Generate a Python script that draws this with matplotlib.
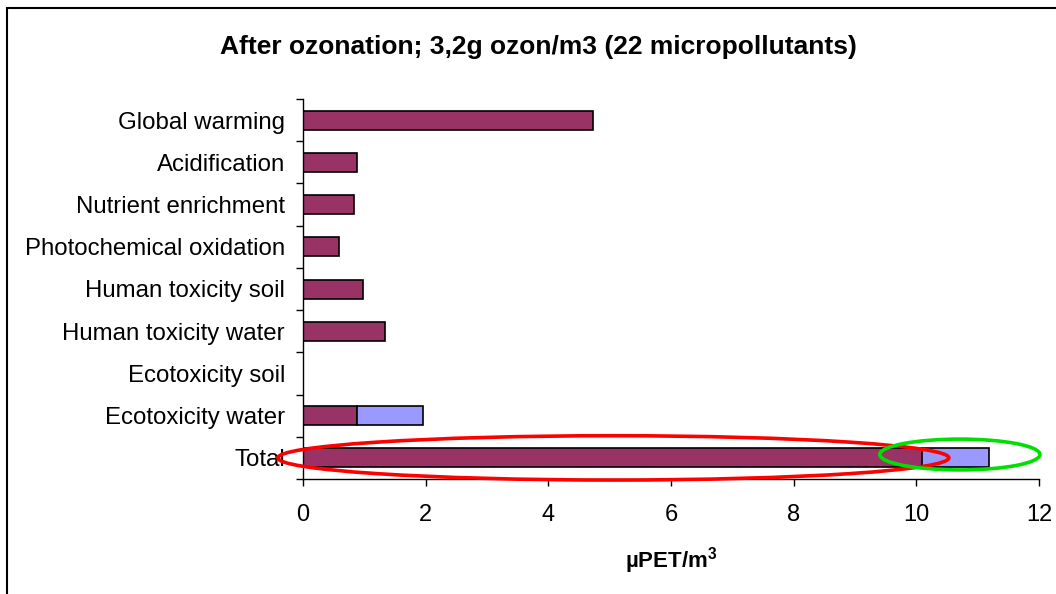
import matplotlib
matplotlib.use("Agg")
import matplotlib.pyplot as plt
from matplotlib.patches import Ellipse, Rectangle
import numpy as np

plt.rcParams['font.family'] = ['Liberation Sans', 'DejaVu Sans']

categories = ["Total", "Ecotoxicity water", "Ecotoxicity soil", "Human toxicity water",
              "Human toxicity soil", "Photochemical oxidation", "Nutrient enrichment",
              "Acidification", "Global warming"]
series_a = [10.10, 0.88, 0.0, 1.34, 0.98, 0.58, 0.83, 0.88, 4.73]
series_b = [1.09, 1.08, 0.0, 0.0, 0.0, 0.0, 0.0, 0.0, 0.0]
xticks = [0, 2, 4, 6, 8, 10, 12]
title = "After ozonation; 3,2g ozon/m3 (22 micropollutants)"
xlabel = "µPET/m$^\\mathregular{3}$"

W, H = 1056, 594
fig = plt.figure(figsize=(W / 100, H / 100), dpi=100)
ax = fig.add_axes([303 / W, 1 - 479 / H, (1039 - 303) / W, (479 - 99) / H])

y = np.arange(len(categories))
ea = ['black' if v > 0 else 'none' for v in series_a]
eb = ['black' if v > 0 else 'none' for v in series_b]
ax.barh(y, series_a, height=0.45, color='#993366', edgecolor=ea, linewidth=1.2, zorder=2)
ax.barh(y, series_b, left=series_a, height=0.45, color='#9999FF', edgecolor=eb, linewidth=1.2, zorder=2)

ax.set_xlim(0, 12)
ax.set_ylim(-0.5, len(categories) - 0.5)
ax.set_xticks(xticks)
ax.set_xticklabels([str(t) for t in xticks], fontsize=17)
ax.set_yticks(y)
ax.set_yticklabels(categories, fontsize=17.3)
ax.set_yticks(np.arange(-0.5, len(categories)), minor=True)
ax.tick_params(axis='y', which='major', length=0, pad=13)
ax.tick_params(axis='y', which='minor', length=5, width=1, direction='out')
ax.tick_params(axis='x', which='major', length=5, width=1, direction='out', pad=13)
for s in ['top', 'right']:
    ax.spines[s].set_visible(False)
for s in ['left', 'bottom']:
    ax.spines[s].set_linewidth(1)
ax.set_xlabel(xlabel, fontsize=16, fontweight='bold', labelpad=14)

# highlight ellipses
ax.add_patch(Ellipse((5.06, 0), 10.94, 1.05, fill=False, edgecolor='#FF0000', linewidth=2.6,
                     clip_on=False, zorder=5))
ax.add_patch(Ellipse((10.71, 0.08), 2.61, 0.73, fill=False, edgecolor='#00E000', linewidth=2.6,
                     clip_on=False, zorder=6))

fig.text(538 / W, 1 - 47 / H, title, ha='center', va='center', fontsize=19, fontweight='bold')

# chart border
fig.add_artist(Rectangle((7 / W, -0.05), 1.1, 1 - 8 / H + 0.05, transform=fig.transFigure,
                         fill=False, edgecolor='black', linewidth=1.5, clip_on=False))

fig.savefig("out.png", dpi=100)
